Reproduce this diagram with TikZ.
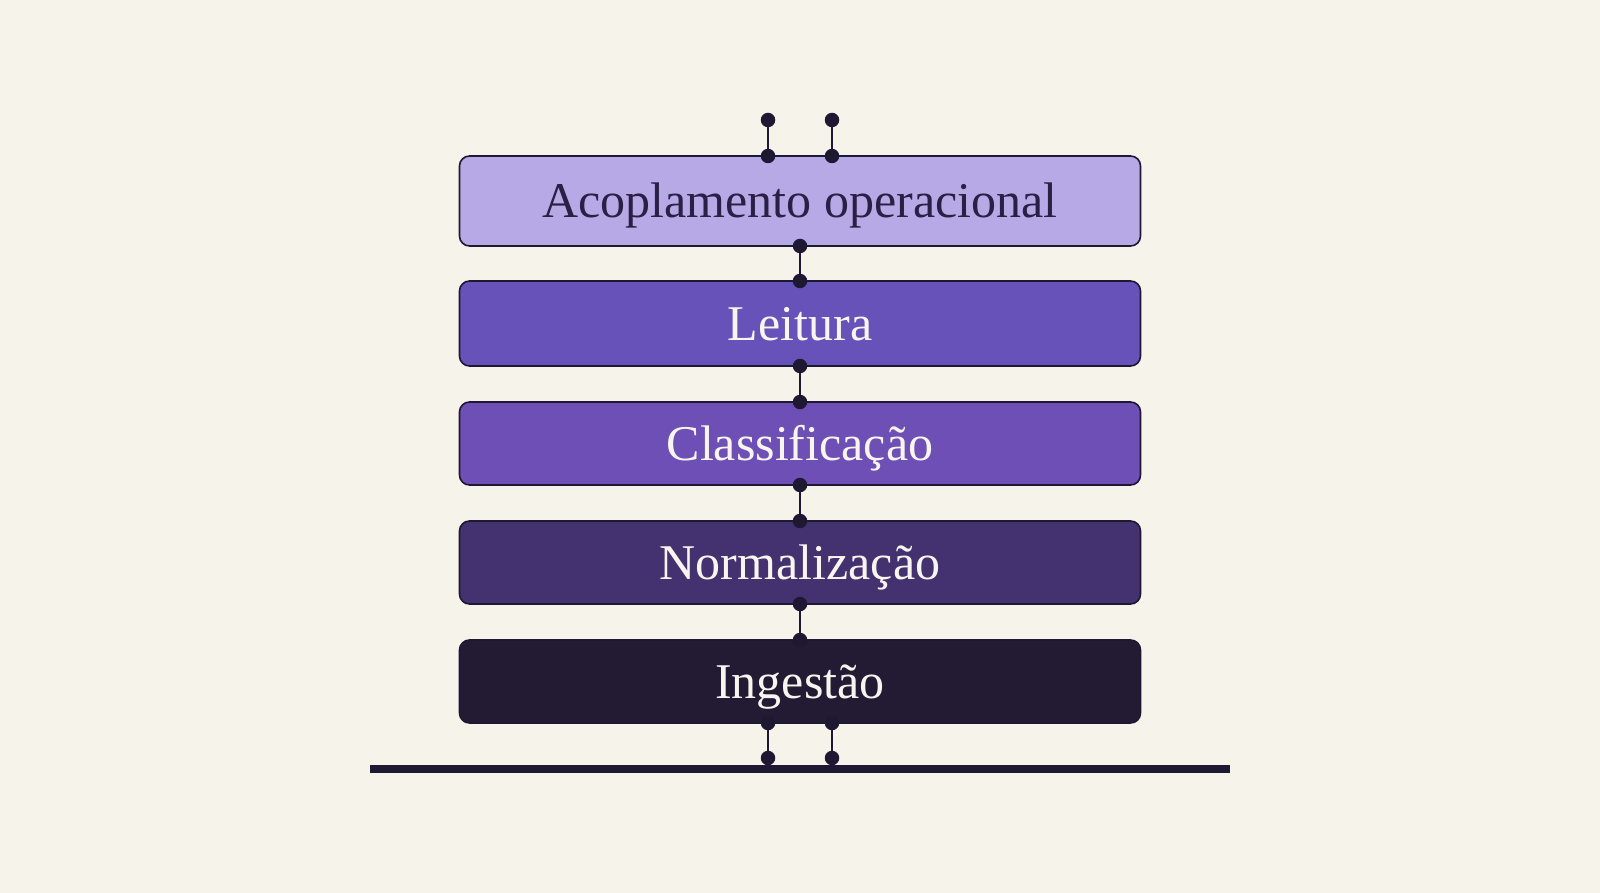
\documentclass[tikz,border=0pt]{standalone}
\usepackage{fontspec}
\setmainfont{Liberation Serif}
\definecolor{bg}{HTML}{F6F3EA}
\definecolor{ink}{HTML}{1F1833}
\definecolor{cA}{HTML}{B7A8E6}
\definecolor{cB}{HTML}{6652B8}
\definecolor{cC}{HTML}{6D4FB6}
\definecolor{cD}{HTML}{44316F}
\definecolor{cE}{HTML}{231A33}
\definecolor{txtdark}{HTML}{2A1F45}
\definecolor{txtlight}{HTML}{F8F5EE}
\begin{document}
\begin{tikzpicture}[x=1pt,y=-1pt,
  layer/.style={draw=ink,line width=1.6pt,rounded corners=10pt,minimum width=681pt,inner sep=0pt,text height=34pt,text depth=0pt,font=\fontsize{50}{50}\selectfont},
  dot/.style={circle,fill=ink,inner sep=0pt,minimum size=14.5pt},
  link/.style={draw=ink,line width=2.4pt}]
\fill[bg] (0,0) rectangle (1600,893);
\useasboundingbox (0,0) rectangle (1600,893);
\node[layer,fill=cA,text=txtdark,minimum height=90pt] (L1) at (800,201) {Acoplamento operacional};
\node[layer,fill=cB,text=txtlight,minimum height=85pt] (L2) at (800,323.5) {Leitura};
\node[layer,fill=cC,text=txtlight,minimum height=83pt] (L3) at (800,443.5) {Classificação};
\node[layer,fill=cD,text=txtlight,minimum height=83pt] (L4) at (800,562.5) {Normalização};
\node[layer,fill=cE,text=txtlight,minimum height=83pt] (L5) at (800,681.5) {Ingestão};
\fill[ink] (370,765) rectangle (1230,773);
% top terminals
\node[dot] (t1) at (768,120) {};
\node[dot] (t2) at (832,120) {};
\node[dot] (a1) at (768,156) {};
\node[dot] (a2) at (832,156) {};
\draw[link] (t1) -- (a1);
\draw[link] (t2) -- (a2);
% between layers
\node[dot] (b1) at (800,246) {};
\node[dot] (b2) at (800,281) {};
\draw[link] (b1) -- (b2);
\node[dot] (c1) at (800,366) {};
\node[dot] (c2) at (800,402) {};
\draw[link] (c1) -- (c2);
\node[dot] (d1) at (800,485) {};
\node[dot] (d2) at (800,521) {};
\draw[link] (d1) -- (d2);
\node[dot] (e1) at (800,604) {};
\node[dot] (e2) at (800,640) {};
\draw[link] (e1) -- (e2);
% bottom terminals
\node[dot] (f1) at (768,723) {};
\node[dot] (f2) at (832,723) {};
\node[dot] (g1) at (768,758) {};
\node[dot] (g2) at (832,758) {};
\draw[link] (f1) -- (g1);
\draw[link] (f2) -- (g2);
\end{tikzpicture}
\end{document}
